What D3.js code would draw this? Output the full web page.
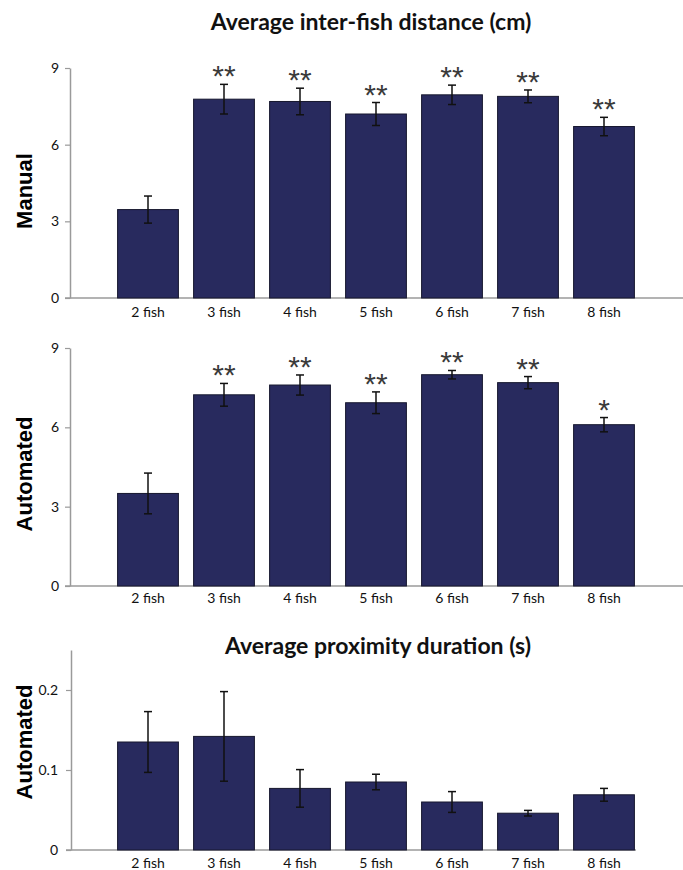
<!DOCTYPE html>
<html>
<head>
<meta charset="UTF-8">
<title></title>
<script src="https://d3js.org/d3.v7.min.js"></script>
<style>
  body { margin: 0; background: #fff; }
  svg { display: block; }
</style>
</head>
<body>
<div id="svg"></div>
<script>
const categories = ["2 fish", "3 fish", "4 fish", "5 fish", "6 fish", "7 fish", "8 fish"];

// average inter-fish distance (cm), manual tracking
const manualMean = [3.46, 7.78, 7.69, 7.20, 7.95, 7.89, 6.71];
const manualErr  = [0.53, 0.58, 0.52, 0.45, 0.38, 0.25, 0.36];
const manualSig  = ["", "**", "**", "**", "**", "**", "**"];

// average inter-fish distance (cm), automated tracking
const autoMean = [3.50, 7.23, 7.60, 6.93, 7.99, 7.69, 6.10];
const autoErr  = [0.77, 0.43, 0.38, 0.41, 0.16, 0.23, 0.27];
const autoSig  = ["", "**", "**", "**", "**", "**", "*"];

// average proximity duration (s), automated
const proxMean = [0.135, 0.142, 0.077, 0.085, 0.060, 0.046, 0.069];
const proxErr  = [0.038, 0.056, 0.0235, 0.0097, 0.013, 0.0035, 0.008];
const proxSig  = ["", "", "", "", "", "", ""];

const distTicks = [0, 3, 6, 9];
const proxTicks = [0, 0.1, 0.2];

const width = 683, height = 870;
const barColor = "#282a5e";

const svg = d3.select("#svg").append("svg").attr("width", width).attr("height", height);

// titles
svg.append("text").attr("x", 371).attr("y", 30).attr("text-anchor", "middle")
  .attr("font-family", "Lato").attr("font-weight", "bold").attr("font-size", 23)
  .attr("fill", "#111").text("Average inter-fish distance (cm)");
svg.append("text").attr("x", 378).attr("y", 654).attr("text-anchor", "middle")
  .attr("font-family", "Lato").attr("font-weight", "bold").attr("font-size", 23)
  .attr("fill", "#111").text("Average proximity duration (s)");

const drawPanel = p => {
  const x = d3.scaleBand().domain(categories).range([110, 642]).paddingInner(0.2).paddingOuter(0.1);
  const y = d3.scaleLinear().domain(p.domain).range([p.bottom, p.top]);
  const g = svg.append("g");

  // y axis
  const yAxis = d3.axisLeft(y).tickValues(p.ticks).tickSize(5).tickSizeOuter(0).tickPadding(p.pad)
    .tickFormat(d3.format(p.fmt));
  const gy = g.append("g").attr("transform", `translate(${p.axisX},0)`).call(yAxis);
  gy.select(".domain").attr("stroke", "#9a9a9a").attr("stroke-width", 1.5);
  gy.selectAll(".tick line").attr("stroke", "#9a9a9a").attr("stroke-width", 1.2);
  gy.selectAll(".tick text").attr("font-family", "Lato").attr("font-size", 14).attr("fill", "#111");

  // x baseline
  g.append("line").attr("x1", p.axisX - 5).attr("x2", p.axisEnd)
    .attr("y1", y(0)).attr("y2", y(0)).attr("stroke", "#9a9a9a").attr("stroke-width", 1.5);

  // bars
  g.selectAll("rect").data(p.mean).enter().append("rect")
    .attr("x", (d, i) => x(categories[i]))
    .attr("y", d => y(d))
    .attr("width", x.bandwidth())
    .attr("height", d => y(0) - y(d))
    .attr("fill", barColor).attr("stroke", "#16172e").attr("stroke-width", 1);

  // error bars
  const cx = i => x(categories[i]) + x.bandwidth() / 2;
  const eb = g.selectAll(".err").data(p.mean).enter().append("g").attr("class", "err")
    .attr("stroke", "#111").attr("stroke-width", 1.5);
  eb.append("line").attr("x1", (d, i) => cx(i)).attr("x2", (d, i) => cx(i))
    .attr("y1", (d, i) => y(d + p.err[i])).attr("y2", (d, i) => y(d - p.err[i]));
  eb.append("line").attr("x1", (d, i) => cx(i) - 4).attr("x2", (d, i) => cx(i) + 4)
    .attr("y1", (d, i) => y(d + p.err[i])).attr("y2", (d, i) => y(d + p.err[i]));
  eb.append("line").attr("x1", (d, i) => cx(i) - 4).attr("x2", (d, i) => cx(i) + 4)
    .attr("y1", (d, i) => y(d - p.err[i])).attr("y2", (d, i) => y(d - p.err[i]));

  // significance stars
  g.selectAll(".sig").data(p.sig).enter().append("text").attr("class", "sig")
    .attr("x", (d, i) => cx(i))
    .attr("y", (d, i) => y(p.mean[i] + p.err[i]) + 2)
    .attr("text-anchor", "middle").attr("font-family", "Liberation Sans").attr("font-size", 30)
    .attr("fill", "#3a3a3a").text(d => d);

  // category labels
  g.selectAll(".cat").data(categories).enter().append("text").attr("class", "cat")
    .attr("x", d => x(d) + x.bandwidth() / 2).attr("y", y(0) + p.labelDy)
    .attr("text-anchor", "middle").attr("font-family", "Lato").attr("font-size", 14)
    .attr("fill", "#111").text(d => d);

  // y label
  g.append("text").attr("transform", `translate(32,${p.labelY}) rotate(-90)`)
    .attr("text-anchor", "middle").attr("font-family", "Liberation Sans").attr("font-weight", "bold")
    .attr("font-size", 22).attr("fill", "#000").text(p.label);
};

drawPanel({ mean: manualMean, err: manualErr, sig: manualSig, domain: [0, 9], ticks: distTicks, fmt: "d",
  top: 68, bottom: 298, axisX: 70, axisEnd: 683, pad: 6, labelDy: 19, label: "Manual", labelY: 191 });
drawPanel({ mean: autoMean, err: autoErr, sig: autoSig, domain: [0, 9], ticks: distTicks, fmt: "d",
  top: 348, bottom: 586, axisX: 70, axisEnd: 683, pad: 6, labelDy: 17, label: "Automated", labelY: 474 });
drawPanel({ mean: proxMean, err: proxErr, sig: proxSig, domain: [0, 0.25], ticks: proxTicks, fmt: "",
  top: 650, bottom: 850, axisX: 71, axisEnd: 636, pad: 8, labelDy: 18, label: "Automated", labelY: 742 });
</script>
</body>
</html>
